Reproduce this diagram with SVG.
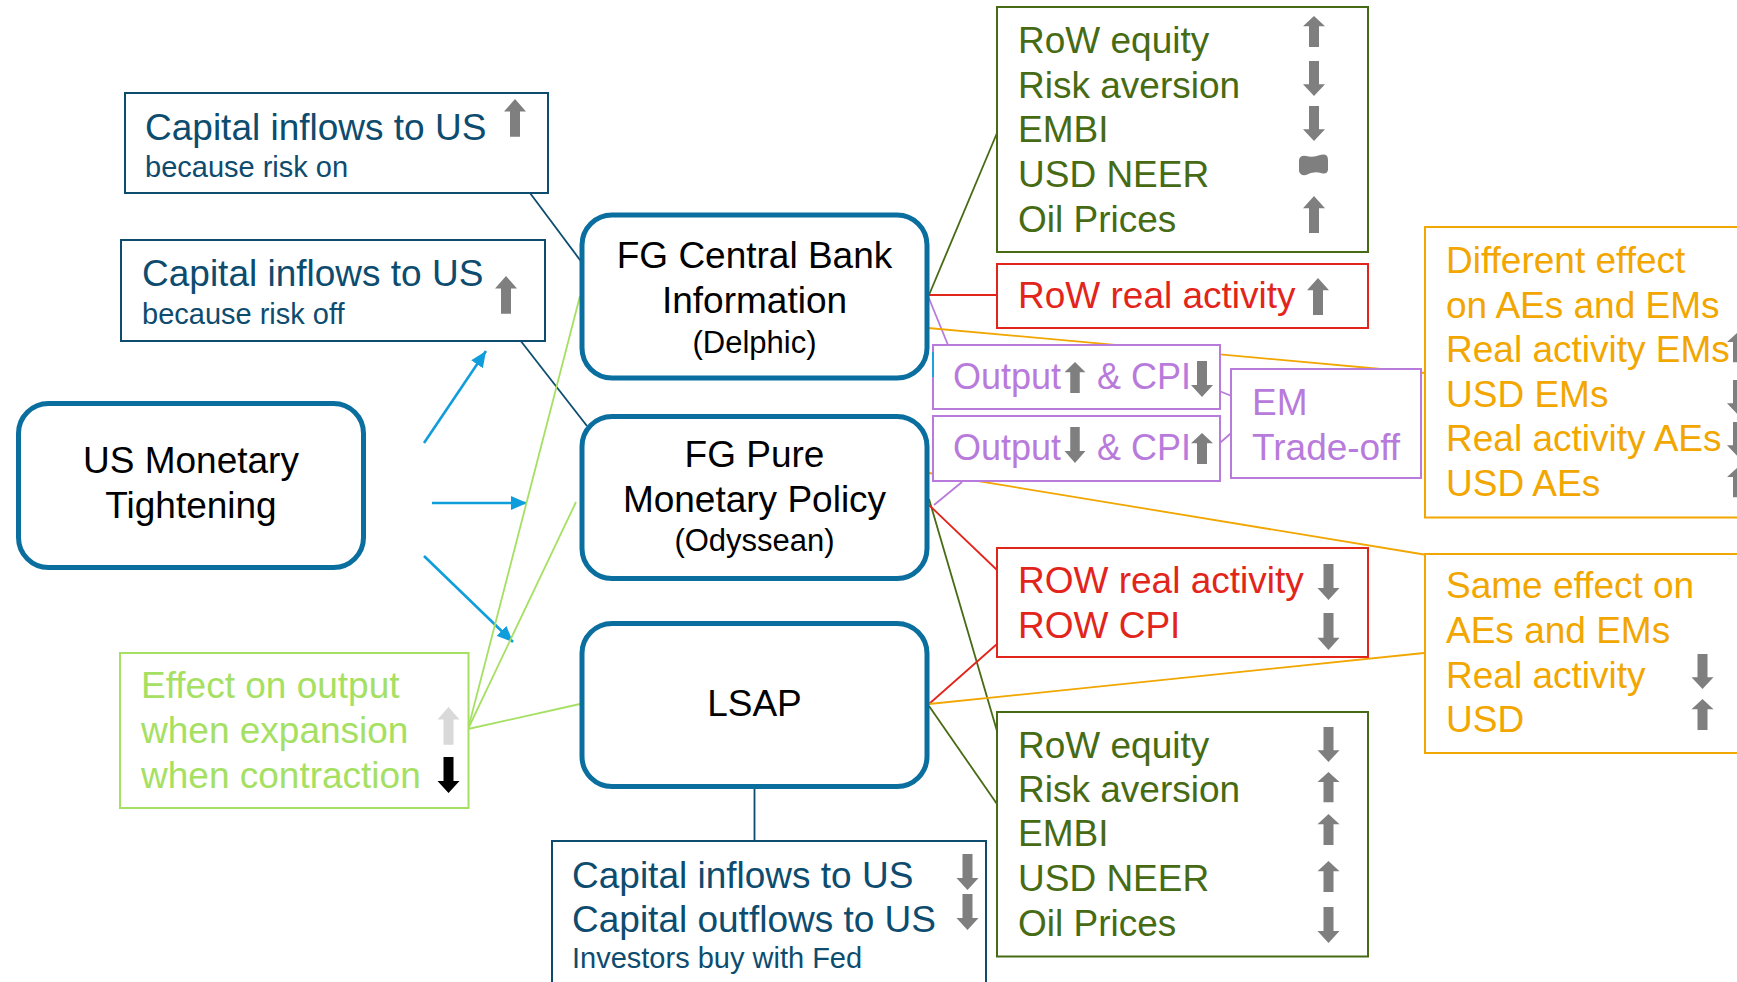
<svg xmlns="http://www.w3.org/2000/svg" xmlns:xlink="http://www.w3.org/1999/xlink" width="1737" height="982" viewBox="0 0 1737 982">
  <style>
    text { font-family: "Liberation Sans", Arial, sans-serif; font-size: 37px; }
    .node { fill: #ffffff; stroke: #0A6E9F; stroke-width: 5; }
    .box { fill: #ffffff; stroke-width: 2; }
    .c-navy { fill: #0D4C6E; }
    .s-navy { stroke: #0D4C6E; }
    .c-black { fill: #000000; }
    .c-dgreen { fill: #466B14; }
    .s-dgreen { stroke: #466B14; }
    .c-red { fill: #E2251B; }
    .s-red { stroke: #E2251B; }
    .c-purple { fill: #B87BDB; }
    .s-purple { stroke: #B87BDB; }
    .c-orange { fill: #F2A600; }
    .s-orange { stroke: #F2A600; }
    .c-lgreen { fill: #A5E063; }
    .s-lgreen { stroke: #A5E063; }
    .small { font-size: 29px; }
    .paren { font-size: 31px; }
    .mid { text-anchor: middle; }
    .arw { fill: #7F7F7F; }
    .link { fill: none; stroke-width: 1.8; }
    .blue { fill: none; stroke: #0F9EDB; stroke-width: 2.6; marker-end: url(#blueHead); }
  </style>
  <defs>
    <!-- block arrows, 22 wide and 36 tall, tip/top at origin -->
    <path id="up" d="M0,0 L11,12 L5,12 L5,36 L-5,36 L-5,12 L-11,12 Z"/>
    <path id="down" d="M0,36 L11,24 L5,24 L5,0 L-5,0 L-5,24 L-11,24 Z"/>
    <marker id="blueHead" markerUnits="userSpaceOnUse" markerWidth="18" markerHeight="14" refX="16" refY="7" orient="auto">
      <path d="M0,0 L16,7 L0,14 Z" fill="#0F9EDB"/>
    </marker>
  </defs>

  <!-- connectors -->
  <g id="connectors">
    <line class="link s-navy" x1="530" y1="193" x2="583" y2="264"/>
    <line class="link s-navy" x1="520" y1="340" x2="587" y2="426"/>
    <line class="link s-navy" x1="754.5" y1="789" x2="754.5" y2="841"/>

    <line class="blue" x1="424" y1="443" x2="486" y2="351"/>
    <line class="blue" x1="432" y1="503" x2="527" y2="503"/>
    <line class="blue" x1="424" y1="556" x2="513" y2="642"/>

    <line class="link s-lgreen" x1="468" y1="729" x2="580" y2="296"/>
    <line class="link s-lgreen" x1="468" y1="729" x2="576" y2="502"/>
    <line class="link s-lgreen" x1="468" y1="729" x2="580" y2="704"/>

    <line class="link s-dgreen" x1="929" y1="295" x2="997" y2="133"/>
    <line class="link s-dgreen" x1="929" y1="499" x2="997" y2="731"/>
    <line class="link s-dgreen" x1="929" y1="706" x2="997" y2="804"/>

    <line class="link s-red" x1="929" y1="295" x2="997" y2="295"/>
    <line class="link s-red" x1="929" y1="505" x2="997" y2="570"/>
    <line class="link s-red" x1="929" y1="704" x2="997" y2="644"/>

    <line class="link s-purple" x1="928" y1="296" x2="948" y2="345"/>
    <line class="link s-purple" x1="934" y1="505" x2="962" y2="482"/>
    <line class="link s-purple" x1="1212" y1="388" x2="1234" y2="397"/>
    <line class="link s-purple" x1="1213" y1="449" x2="1238" y2="427"/>

    <line class="link s-orange" x1="928" y1="328" x2="1425" y2="373"/>
    <line class="link s-orange" x1="929" y1="473" x2="1427" y2="555"/>
    <line class="link s-orange" x1="929" y1="704" x2="1424" y2="653"/>
  </g>

  <!-- main nodes -->
  <g id="us-tightening">
    <rect class="node" x="18.5" y="403.5" width="345" height="164" rx="30"/>
    <text class="c-black mid" x="191" y="473">US Monetary</text>
    <text class="c-black mid" x="191" y="518">Tightening</text>
  </g>
  <g id="fg-cbi">
    <rect class="node" x="582" y="215" width="345" height="163" rx="30"/>
    <text class="c-black mid" x="754.5" y="268">FG Central Bank</text>
    <text class="c-black mid" x="754.5" y="313">Information</text>
    <text class="c-black mid paren" x="754.5" y="353">(Delphic)</text>
  </g>
  <g id="fg-pure">
    <rect class="node" x="582" y="416.5" width="345" height="162" rx="30"/>
    <text class="c-black mid" x="754.5" y="467">FG Pure</text>
    <text class="c-black mid" x="754.5" y="512">Monetary Policy</text>
    <text class="c-black mid paren" x="754.5" y="551">(Odyssean)</text>
  </g>
  <g id="lsap">
    <rect class="node" x="582" y="623.5" width="345" height="163" rx="30"/>
    <text class="c-black mid" x="754.5" y="716">LSAP</text>
  </g>

  <!-- capital flow boxes -->
  <g id="inflows-risk-on">
    <rect class="box s-navy" x="125" y="93" width="423" height="100"/>
    <text class="c-navy" x="145" y="140">Capital inflows to US</text>
    <text class="c-navy small" x="145" y="177">because risk on</text>
    <use xlink:href="#up" class="arw" transform="translate(515,99) scale(1,1.05)"/>
  </g>
  <g id="inflows-risk-off">
    <rect class="box s-navy" x="121" y="240" width="424" height="101"/>
    <text class="c-navy" x="142" y="286">Capital inflows to US</text>
    <text class="c-navy small" x="142" y="324">because risk off</text>
    <use xlink:href="#up" class="arw" transform="translate(506,276) scale(1,1.05)"/>
  </g>
  <g id="lsap-flows">
    <rect class="box s-navy" x="552" y="841" width="434" height="170"/>
    <text class="c-navy" x="572" y="888">Capital inflows to US</text>
    <text class="c-navy" x="572" y="932">Capital outflows to US</text>
    <text class="c-navy small" x="572" y="968">Investors buy with Fed</text>
    <use xlink:href="#down" class="arw" transform="translate(967.5,854)"/>
    <use xlink:href="#down" class="arw" transform="translate(967.5,894)"/>
  </g>

  <!-- output effect -->
  <g id="output-effect">
    <rect class="box s-lgreen" x="120" y="653" width="348.5" height="155"/>
    <text class="c-lgreen" x="141" y="698">Effect on output</text>
    <text class="c-lgreen" x="141" y="743">when expansion</text>
    <text class="c-lgreen" x="141" y="788">when contraction</text>
    <use xlink:href="#up" fill="#D9D9D9" transform="translate(448.5,707) scale(1,1.05)"/>
    <use xlink:href="#down" fill="#000000" transform="translate(448.5,757)"/>
  </g>

  <!-- financial responses to information shock -->
  <g id="fin-delphic">
    <rect class="box s-dgreen" x="997" y="7" width="371" height="245"/>
    <text class="c-dgreen" x="1018" y="53">RoW equity</text>
    <text class="c-dgreen" x="1018" y="98">Risk aversion</text>
    <text class="c-dgreen" x="1018" y="142">EMBI</text>
    <text class="c-dgreen" x="1018" y="187">USD NEER</text>
    <text class="c-dgreen" x="1018" y="232">Oil Prices</text>
    <use xlink:href="#up" class="arw" transform="translate(1314,16) scale(1,0.86)"/>
    <use xlink:href="#down" class="arw" transform="translate(1314,61) scale(1,0.97)"/>
    <use xlink:href="#down" class="arw" transform="translate(1314,106) scale(1,0.97)"/>
    <path class="arw" d="M1299,160 Q1300,155 1306,156 Q1313,158 1320,155 Q1328,153 1328,160 L1328,170 Q1327,175 1321,173 Q1313,171 1306,175 Q1300,176 1299,171 Z"/>
    <use xlink:href="#up" class="arw" transform="translate(1314,196) scale(1,1.03)"/>
  </g>
  <g id="real-delphic">
    <rect class="box s-red" x="997" y="264" width="371" height="64"/>
    <text class="c-red" x="1018" y="308">RoW real activity</text>
    <use xlink:href="#up" class="arw" transform="translate(1318,278) scale(1,1.03)"/>
  </g>

  <!-- EM trade-off -->
  <g id="tradeoff-1">
    <rect class="box s-purple" x="933" y="345" width="287" height="64"/>
    <line x1="933" y1="352" x2="933" y2="377" stroke="#1BA1E2" stroke-width="2"/>
    <text class="c-purple" x="953" y="389" style="font-size:36px">Output</text>
    <text class="c-purple" x="1097" y="389" style="font-size:36px">&amp; CPI</text>
    <use xlink:href="#up" class="arw" transform="translate(1075,362) scale(0.95,0.86)"/>
    <use xlink:href="#down" class="arw" transform="translate(1202,361)"/>
  </g>
  <g id="tradeoff-2">
    <rect class="box s-purple" x="933" y="416" width="287" height="65"/>
    <text class="c-purple" x="953" y="460" style="font-size:36px">Output</text>
    <text class="c-purple" x="1097" y="460" style="font-size:36px">&amp; CPI</text>
    <use xlink:href="#down" class="arw" transform="translate(1075,427) scale(0.95,1)"/>
    <use xlink:href="#up" class="arw" transform="translate(1202,433) scale(1,0.86)"/>
  </g>
  <g id="em-tradeoff">
    <rect class="box s-purple" x="1231" y="369" width="190" height="109"/>
    <text class="c-purple" x="1252" y="415">EM</text>
    <text class="c-purple" x="1252" y="460">Trade-off</text>
  </g>

  <!-- responses to pure policy and LSAP -->
  <g id="real-odyssean">
    <rect class="box s-red" x="997" y="548" width="371" height="109"/>
    <text class="c-red" x="1018" y="593">ROW real activity</text>
    <text class="c-red" x="1018" y="638">ROW CPI</text>
    <use xlink:href="#down" class="arw" transform="translate(1328.5,564)"/>
    <use xlink:href="#down" class="arw" transform="translate(1328.5,613) scale(1,1.03)"/>
  </g>
  <g id="fin-odyssean">
    <rect class="box s-dgreen" x="997" y="712" width="371" height="244.5"/>
    <text class="c-dgreen" x="1018" y="758">RoW equity</text>
    <text class="c-dgreen" x="1018" y="802">Risk aversion</text>
    <text class="c-dgreen" x="1018" y="846">EMBI</text>
    <text class="c-dgreen" x="1018" y="891">USD NEER</text>
    <text class="c-dgreen" x="1018" y="936">Oil Prices</text>
    <use xlink:href="#down" class="arw" transform="translate(1328.5,727) scale(1,0.97)"/>
    <use xlink:href="#up" class="arw" transform="translate(1328.5,772) scale(1,0.84)"/>
    <use xlink:href="#up" class="arw" transform="translate(1328.5,814) scale(1,0.86)"/>
    <use xlink:href="#up" class="arw" transform="translate(1328.5,861) scale(1,0.86)"/>
    <use xlink:href="#down" class="arw" transform="translate(1328.5,907)"/>
  </g>

  <!-- AE / EM split -->
  <g id="different-effect">
    <rect class="box s-orange" x="1425" y="227" width="340" height="290.5"/>
    <text class="c-orange" x="1446" y="273">Different effect</text>
    <text class="c-orange" x="1446" y="317.5">on AEs and EMs</text>
    <text class="c-orange" x="1446" y="362">Real activity EMs</text>
    <text class="c-orange" x="1446" y="406.5">USD EMs</text>
    <text class="c-orange" x="1446" y="451">Real activity AEs</text>
    <text class="c-orange" x="1446" y="496">USD AEs</text>
    <use xlink:href="#up" class="arw" transform="translate(1738,332) scale(1,0.84)"/>
    <use xlink:href="#down" class="arw" transform="translate(1738,380) scale(1,0.97)"/>
    <use xlink:href="#down" class="arw" transform="translate(1738,422) scale(1,0.97)"/>
    <use xlink:href="#up" class="arw" transform="translate(1738,467) scale(1,0.84)"/>
  </g>
  <g id="same-effect">
    <rect class="box s-orange" x="1425" y="554" width="340" height="199"/>
    <text class="c-orange" x="1446" y="598">Same effect on</text>
    <text class="c-orange" x="1446" y="643">AEs and EMs</text>
    <text class="c-orange" x="1446" y="687.5">Real activity</text>
    <text class="c-orange" x="1446" y="731.5">USD</text>
    <use xlink:href="#down" class="arw" transform="translate(1702.5,654) scale(1,0.97)"/>
    <use xlink:href="#up" class="arw" transform="translate(1702.5,699) scale(1,0.86)"/>
  </g>
</svg>
